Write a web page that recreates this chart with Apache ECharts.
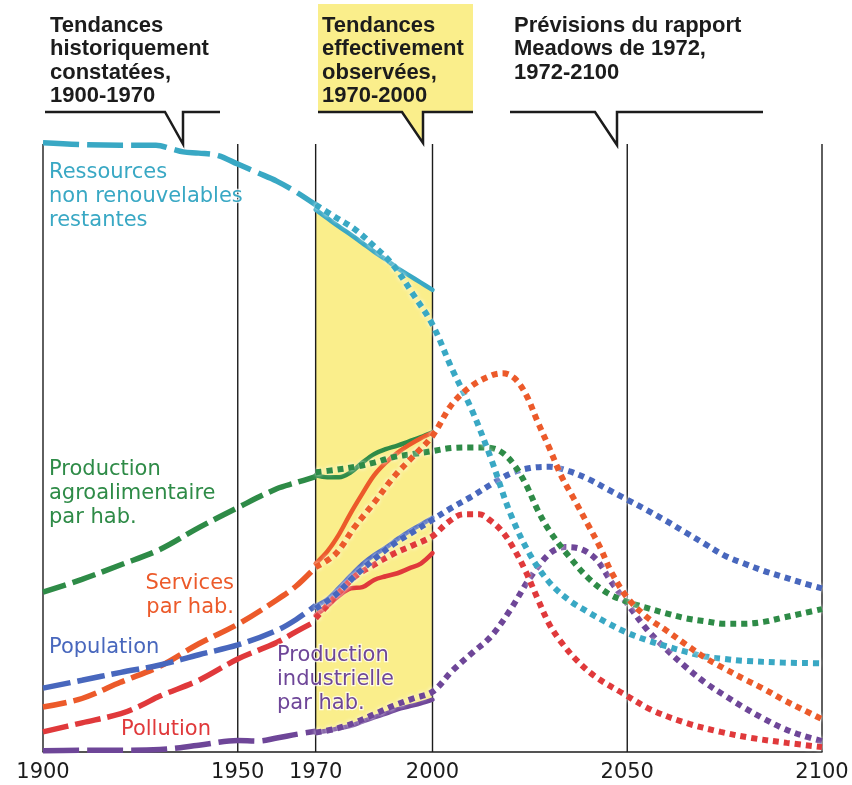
<!DOCTYPE html>
<html><head><meta charset="utf-8">
<script src="https://cdn.jsdelivr.net/npm/echarts@6/dist/echarts.min.js"></script>
<style>html,body{margin:0;padding:0;background:#fff}#c{width:852px;height:785px}</style>
</head><body><div id="c"></div>
<script>
// ---- axis ----
const gridYears = [1900, 1950, 1970, 2000, 2050, 2100];
const obsYears = [1970, 1973, 1976, 1979, 1982, 1985, 1988, 1991, 1994, 1997, 2000];

// ---- Ressources non renouvelables restantes ----
const resHistYears = [1900, 1910, 1920, 1929, 1933, 1936, 1940, 1945, 1950, 1955, 1960, 1965, 1970];
const resHist = [100.2, 99.9, 99.8, 99.8, 99.2, 98.7, 98.5, 98.1, 96.7, 95.3, 93.9, 92.1, 90.0];
const resObs = [89.2, 87.8, 86.4, 85.1, 83.7, 82.3, 81.0, 79.6, 78.4, 77.2, 76.0];
const resFcYears = [1970, 1975, 1980, 1985, 1990, 1995, 2000, 2005, 2010, 2015, 2020, 2025, 2030, 2035, 2040, 2045, 2050, 2055, 2060, 2065, 2070, 2075, 2080, 2090, 2100];
const resFc = [90.0, 88.0, 86.0, 83.2, 80.0, 75.3, 70.3, 63.0, 56.4, 48.3, 39.2, 32.5, 27.9, 25.0, 23.0, 21.2, 19.6, 18.4, 17.4, 16.5, 15.7, 15.3, 15.0, 14.7, 14.6];

// ---- Production agroalimentaire par hab. ----
const foodHistYears = [1900, 1910, 1920, 1930, 1940, 1950, 1960, 1965, 1970];
const foodHist = [26.3, 28.4, 30.8, 33.3, 36.9, 40.2, 43.3, 44.3, 45.3];
const foodObs = [45.5, 45.2, 45.2, 46.0, 47.6, 49.0, 49.8, 50.4, 51.1, 51.8, 52.6];
const foodFcYears = [1970, 1975, 1980, 1985, 1990, 1995, 2000, 2005, 2010, 2015, 2018, 2021, 2024, 2027, 2030, 2035, 2040, 2045, 2050, 2055, 2060, 2065, 2070, 2075, 2080, 2085, 2090, 2095, 2100];
const foodFc = [46.0, 46.4, 46.9, 47.6, 48.5, 49.0, 49.5, 50.0, 50.1, 50.0, 49.2, 47.2, 44.0, 39.8, 36.4, 32.2, 28.6, 26.1, 24.7, 23.7, 22.8, 22.0, 21.5, 21.1, 21.1, 21.4, 22.1, 22.8, 23.5];

// ---- Services par hab. ----
const servHistYears = [1900, 1910, 1920, 1930, 1940, 1950, 1960, 1965, 1970];
const servHist = [7.4, 8.8, 11.5, 14.1, 17.8, 21.0, 25.0, 27.3, 30.4];
const servObs = [31.0, 33.0, 35.8, 39.3, 42.5, 45.5, 47.6, 49.2, 50.5, 51.6, 52.5];
const servFcYears = [1970, 1975, 1980, 1985, 1990, 1995, 2000, 2005, 2010, 2015, 2018, 2021, 2024, 2027, 2030, 2033, 2036, 2040, 2043, 2046, 2050, 2055, 2060, 2065, 2070, 2075, 2080, 2085, 2090, 2095, 2100];
const servFc = [30.4, 32.5, 37.0, 41.0, 45.2, 48.6, 52.0, 57.2, 60.2, 61.9, 62.3, 61.5, 58.8, 54.3, 50.0, 45.5, 42.0, 37.3, 33.7, 29.5, 25.4, 22.2, 20.0, 17.7, 15.5, 13.7, 12.0, 10.4, 8.6, 7.0, 5.4];

// ---- Population ----
const popHistYears = [1900, 1910, 1920, 1930, 1940, 1950, 1960, 1965, 1970];
const popHist = [10.5, 11.8, 13.1, 14.3, 16.0, 17.6, 20.0, 21.8, 24.1];
const popObs = [24.0, 25.1, 27.0, 29.0, 30.9, 32.4, 33.6, 35.0, 36.3, 37.4, 38.5];
const popFcYears = [1970, 1975, 1980, 1985, 1990, 1995, 2000, 2005, 2010, 2015, 2020, 2025, 2030, 2035, 2040, 2045, 2050, 2055, 2060, 2065, 2070, 2075, 2080, 2085, 2090, 2095, 2100];
const popFc = [23.6, 25.8, 28.9, 31.7, 34.2, 36.2, 38.2, 40.2, 42.0, 44.0, 45.8, 46.7, 46.9, 46.2, 44.9, 43.2, 41.5, 39.8, 38.0, 36.1, 34.2, 32.3, 31.0, 29.8, 28.8, 27.8, 26.9];

// ---- Pollution ----
const pollHistYears = [1900, 1910, 1920, 1925, 1930, 1940, 1950, 1960, 1965, 1970];
const pollHist = [3.3, 4.8, 6.3, 7.6, 9.2, 11.8, 15.3, 18.0, 19.8, 21.5];
const pollObs = [22.5, 24.0, 25.7, 26.9, 27.1, 28.3, 28.9, 29.4, 30.2, 31.0, 32.7];
const pollFcYears = [1970, 1975, 1980, 1985, 1990, 1995, 2000, 2004, 2008, 2012, 2015, 2018, 2021, 2024, 2027, 2030, 2033, 2037, 2042, 2049, 2056, 2065, 2074, 2082, 2091, 2100];
const pollFc = [22.0, 25.5, 28.8, 30.8, 32.6, 34.0, 35.5, 37.8, 39.1, 39.1, 38.0, 36.2, 33.3, 29.6, 25.2, 21.0, 18.1, 15.1, 12.3, 9.6, 7.0, 4.8, 3.3, 2.3, 1.5, 0.8];

// ---- Production industrielle par hab. ----
const indHistYears = [1900, 1910, 1920, 1930, 1940, 1950, 1955, 1960, 1965, 1970];
const indHist = [0.2, 0.3, 0.3, 0.4, 1.1, 1.9, 1.8, 2.3, 2.9, 3.4];
const indObs = [3.2, 3.5, 3.9, 4.3, 5.0, 5.7, 6.3, 7.0, 7.5, 8.0, 8.6];
const indFcYears = [1970, 1975, 1980, 1985, 1990, 1995, 2000, 2005, 2010, 2015, 2020, 2025, 2030, 2034, 2038, 2042, 2046, 2050, 2055, 2060, 2065, 2070, 2075, 2080, 2085, 2090, 2095, 2100];
const indFc = [3.2, 3.8, 4.8, 6.2, 7.6, 8.8, 9.9, 13.3, 16.2, 19.0, 23.4, 28.6, 32.6, 33.7, 33.4, 31.7, 27.9, 24.4, 20.2, 16.9, 14.0, 11.4, 9.3, 7.3, 5.5, 3.9, 2.7, 1.8];

// ---- styling ----
const COL = { res: '#39A8C4', food: '#2E8B47', serv: '#EC5A2A', pop: '#4867BD', poll: '#E0393B', ind: '#6E4698' };
const YELLOW = '#FAEE8B';
const INK = '#1c1c1c';

function pts(xs, ys) { return xs.map((x, i) => [x, ys[i]]); }

function mk(name, xs, ys, color, kind, dash) {
  const s = { type: 'line', name, data: pts(xs, ys), symbol: 'none', smooth: 0.35, clip: false, silent: true };
  if (kind === 'hist') {
    s.lineStyle = { color, width: 5.5, type: dash || [24, 7], cap: 'butt' }; s.z = 3;
  } else if (kind === 'obs') {
    s.lineStyle = { color, width: 4.5, type: 'solid', cap: 'round' }; s.z = 4;
  } else {
    s.lineStyle = { color, width: 6, type: [6, 5], cap: 'butt', shadowColor: 'rgba(255,255,255,0.95)', shadowBlur: 4 }; s.z = 5;
  }
  return s;
}

const series = [
  {
    type: 'custom', z: 1, silent: true, clip: false, data: [[1985, 50]],
    renderItem: (params, api) => {
      const top = obsYears.map((yr, i) => api.coord([yr, resObs[i]]));
      const bot = obsYears.map((yr, i) => api.coord([yr, indObs[i]])).reverse();
      const children = [{ type: 'polygon', shape: { points: top.concat(bot) }, style: { fill: YELLOW } }];
      gridYears.forEach(yr => {
        const a = api.coord([yr, 0]), b = api.coord([yr, 100]);
        children.push({ type: 'line', shape: { x1: a[0], y1: a[1], x2: b[0], y2: b[1] }, style: { stroke: INK, lineWidth: 1.4 } });
      });
      return { type: 'group', children };
    }
  },
  mk('res-h', resHistYears, resHist, COL.res, 'hist', [36, 8]),
  mk('food-h', foodHistYears, foodHist, COL.food, 'hist'),
  mk('serv-h', servHistYears, servHist, COL.serv, 'hist'),
  mk('pop-h', popHistYears, popHist, COL.pop, 'hist', [28, 7]),
  mk('poll-h', pollHistYears, pollHist, COL.poll, 'hist', [26, 7]),
  mk('ind-h', indHistYears, indHist, COL.ind, 'hist', [36, 8]),
  mk('res-o', obsYears, resObs, COL.res, 'obs'),
  mk('food-o', obsYears, foodObs, COL.food, 'obs'),
  mk('serv-o', obsYears, servObs, COL.serv, 'obs'),
  mk('pop-o', obsYears, popObs, COL.pop, 'obs'),
  mk('poll-o', obsYears, pollObs, COL.poll, 'obs'),
  mk('ind-o', obsYears, indObs, COL.ind, 'obs'),
  mk('ind-f', indFcYears, indFc, COL.ind, 'fc'),
  mk('poll-f', pollFcYears, pollFc, COL.poll, 'fc'),
  mk('pop-f', popFcYears, popFc, COL.pop, 'fc'),
  mk('food-f', foodFcYears, foodFc, COL.food, 'fc'),
  mk('res-f', resFcYears, resFc, COL.res, 'fc'),
  mk('serv-f', servFcYears, servFc, COL.serv, 'fc')
];

const HFONT = 'bold 22px "Liberation Sans", Arial, sans-serif';
const LFONT = '21px "DejaVu Sans", sans-serif';
function label(text, x, y, color, align) {
  return { type: 'text', x, y, z: 20, silent: true,
    style: { text, font: LFONT, fill: color, lineHeight: 24, align: align || 'left', verticalAlign: 'top',
      stroke: 'rgba(255,255,255,0.75)', lineWidth: 2.5, strokeFirst: true } };
}
function header(text, x) {
  return { type: 'text', x, y: 14, z: 20, silent: true,
    style: { text, font: HFONT, fill: INK, lineHeight: 23.5, verticalAlign: 'top' } };
}
function bracket(points) {
  return { type: 'polyline', z: 20, silent: true, shape: { points }, style: { stroke: INK, lineWidth: 2.5, fill: null, lineJoin: 'miter' } };
}

const graphic = [
  { type: 'polygon', z: 10, silent: true, shape: { points: [[318, 4], [473, 4], [473, 112], [423, 112], [423, 143], [402, 112], [318, 112]] }, style: { fill: YELLOW } },
  bracket([[45, 112], [165, 112], [183, 144], [183, 112], [220, 112]]),
  bracket([[318, 112], [402, 112], [423, 143], [423, 112], [473, 112]]),
  bracket([[510, 112], [595, 112], [617, 145], [617, 112], [763, 112]]),
  header('Tendances\nhistoriquement\nconstatées,\n1900-1970', 50),
  header('Tendances\neffectivement\nobservées,\n1970-2000', 322),
  header('Prévisions du rapport\nMeadows de 1972,\n1972-2100', 514),
  label('Ressources\nnon renouvelables\nrestantes', 49, 161, COL.res),
  label('Production\nagroalimentaire\npar hab.', 49, 458, COL.food),
  label('Services\npar hab.', 234, 572, COL.serv, 'right'),
  label('Population', 49, 636, COL.pop),
  label('Production\nindustrielle\npar hab.', 277, 644, COL.ind),
  label('Pollution', 121, 718, COL.poll)
];

const chart = echarts.init(document.getElementById('c'), null, { renderer: 'canvas' });
chart.setOption({
  animation: false,
  backgroundColor: '#fff',
  grid: { left: 43, right: 30, top: 144, bottom: 33, containLabel: false },
  xAxis: {
    type: 'value', min: 1900, max: 2100, interval: 10,
    axisLine: { show: true, lineStyle: { color: INK, width: 1.5 } },
    axisTick: { show: false }, splitLine: { show: false },
    axisLabel: { color: INK, fontSize: 21, fontFamily: 'DejaVu Sans', margin: 10,
      formatter: v => gridYears.includes(v) ? String(v) : '' }
  },
  yAxis: { type: 'value', min: 0, max: 100, show: false, splitLine: { show: false } },
  series,
  graphic
});
</script>
</body></html>
